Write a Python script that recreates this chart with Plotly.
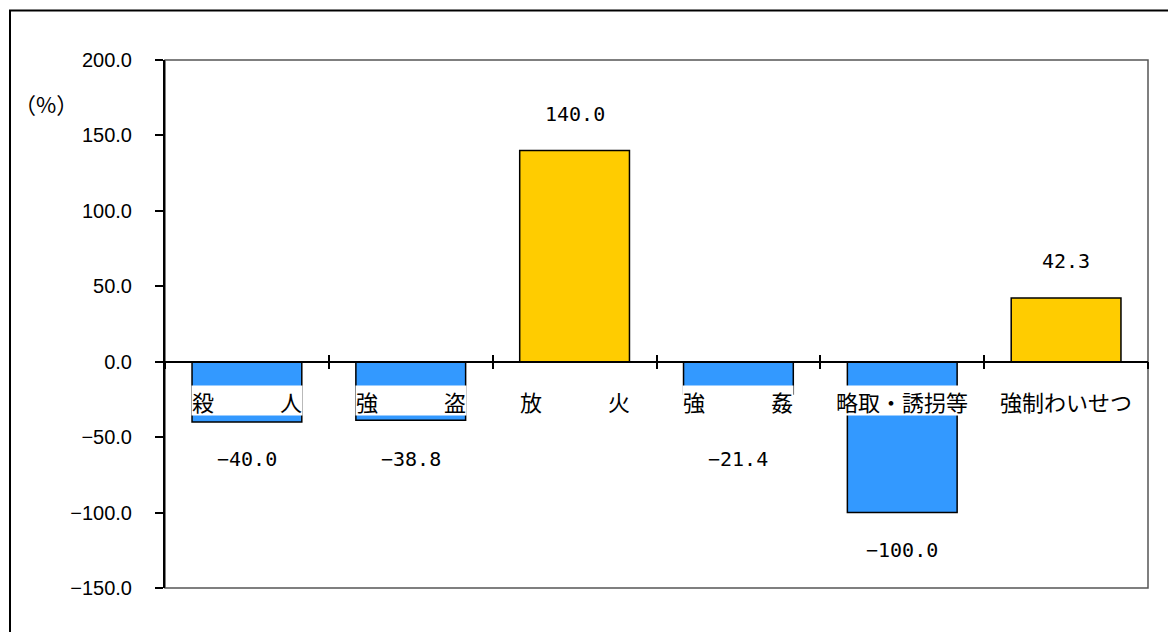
import plotly.graph_objects as go

# 罪種別 増減率（%）
categories = ["殺　　　人", "強　　　盗", "放　　　火", "強　　　姦", "略取・誘拐等", "強制わいせつ"]
rates = [-40.0, -38.8, 140.0, -21.4, -100.0, 42.3]
y_ticks = [-150, -100, -50, 0, 50, 100, 150, 200]

POS_COLOR = "#FFCC00"
NEG_COLOR = "#3399FF"
Y_MIN, Y_MAX = -150, 200

W, H = 1168, 632
ML, MR, MT, MB = 165, 20, 60, 44
plot_w = W - ML - MR
plot_h = H - MT - MB

fig = go.Figure()

fig.add_trace(go.Bar(
    x=categories,
    y=rates,
    marker=dict(
        color=[POS_COLOR if v >= 0 else NEG_COLOR for v in rates],
        line=dict(color="black", width=1.5),
    ),
    showlegend=False,
    hoverinfo="skip",
))

# companion trace so the overlay axis carries the same categories (upper half of the cross ticks)
fig.add_trace(go.Scatter(
    x=categories, y=[None] * len(categories), xaxis="x2",
    mode="markers", showlegend=False, hoverinfo="skip",
))

zero_pos = (0 - Y_MIN) / (Y_MAX - Y_MIN)

# value labels above/below the bars
for c, v in zip(categories, rates):
    label = f"{v:.1f}".replace("-", "−")
    if v >= 0:
        fig.add_annotation(x=c, y=v, text=label, showarrow=False, yshift=37,
                           font=dict(family="DejaVu Sans Mono", size=20, color="black"))
    else:
        fig.add_annotation(x=c, y=min(v, -40.0), text=label, showarrow=False, yshift=-37,
                           font=dict(family="DejaVu Sans Mono", size=20, color="black"))

# category names on a white strip just under the zero line
for c in categories:
    fig.add_annotation(x=c, y=-25.5, text=c, showarrow=False, bgcolor="white",
                       borderpad=0, height=29,
                       font=dict(family="Noto Sans CJK JP", size=22, color="black"))

# unit label
fig.add_annotation(xref="paper", yref="paper", x=(46 - ML) / plot_w, y=1 - (103 - MT) / plot_h,
                   xanchor="center", yanchor="middle",
                   text="（%）", showarrow=False,
                   font=dict(family="Noto Sans CJK JP", size=22, color="black"))

# plot-area frame
fig.add_shape(type="rect", xref="paper", yref="paper", x0=0, x1=1, y0=0, y1=1,
              line=dict(color="#555555", width=1.5), layer="below")
# outer chart border
fig.add_shape(type="rect", xref="paper", yref="paper",
              x0=(10 - ML) / plot_w, x1=1.06, y0=-0.12, y1=1 + (MT - 10.5) / plot_h,
              line=dict(color="black", width=2), layer="above")

fig.update_layout(
    width=W, height=H,
    margin=dict(l=ML, r=MR, t=MT, b=MB),
    paper_bgcolor="white",
    plot_bgcolor="white",
    bargap=0.33,
    xaxis=dict(
        type="category",
        range=[-0.5, len(categories) - 0.5],
        anchor="free", position=zero_pos,
        showticklabels=False,
        showline=True, linecolor="black", linewidth=1.5,
        ticks="outside", tickson="boundaries", ticklen=7, tickwidth=1.5, tickcolor="black",
        showgrid=False, zeroline=False,
    ),
    xaxis2=dict(
        type="category",
        overlaying="x", matches="x",
        anchor="free", position=zero_pos,
        showticklabels=False, showline=False,
        ticks="inside", tickson="boundaries", ticklen=7, tickwidth=1.5, tickcolor="black",
        showgrid=False, zeroline=False,
    ),
    yaxis=dict(
        range=[Y_MIN, Y_MAX],
        tickvals=y_ticks,
        tickformat=".1f",
        ticks="outside", ticklen=8, tickwidth=1.5, tickcolor="black",
        ticklabelstandoff=19,
        showline=True, linecolor="black", linewidth=2,
        showgrid=False, zeroline=False,
        tickfont=dict(family="Liberation Sans, Arial", size=20, color="black"),
    ),
)

fig.write_html("out.html")
